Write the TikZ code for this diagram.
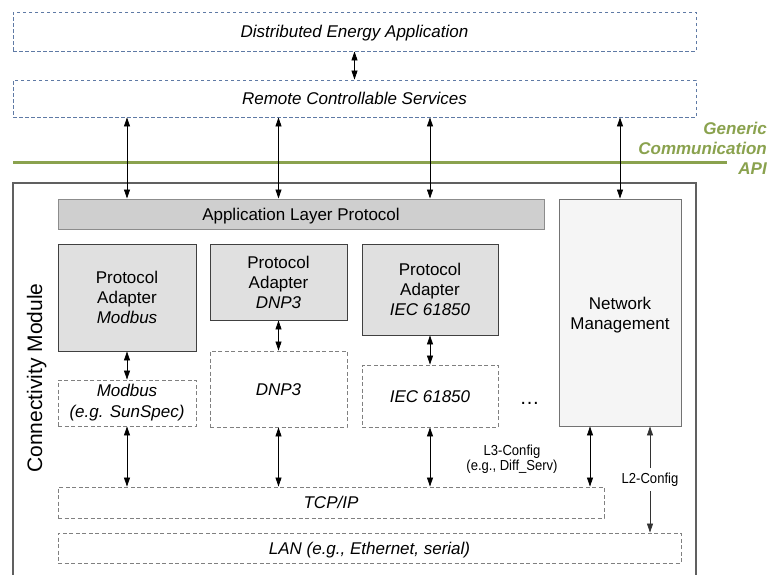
\documentclass[tikz,border=0pt]{standalone}
\usepackage{fontspec}
\setmainfont{Liberation Sans}
\newfontfamily\labelfont[FakeStretch=0.9]{Liberation Sans}
\usetikzlibrary{arrows.meta,calc}

\definecolor{svcblue}{RGB}{95,122,165}
\definecolor{apigreen}{RGB}{138,162,78}
\definecolor{framegray}{RGB}{96,96,96}
\definecolor{dashgray}{RGB}{128,128,128}

\tikzset{
  base/.style={inner sep=0pt, align=center, font=\fontsize{17}{20}\selectfont},
  oneline/.style={text height=12.2pt, text depth=0pt},
  svcbox/.style={base, oneline, draw=svcblue, line width=0.9pt, dash pattern=on 3.5pt off 2.5pt,
    font=\fontsize{17}{20}\selectfont\itshape},
  protobox/.style={base, draw=dashgray, line width=0.9pt, dash pattern=on 4pt off 2.5pt,
    font=\fontsize{17}{21}\selectfont\itshape},
  adapter/.style={base, draw=black!75, fill=black!12, line width=0.9pt},
  alpbox/.style={base, oneline, draw=black!45, fill=black!19, line width=1pt},
  nmbox/.style={base, draw=black!55, fill=black!4, line width=0.9pt},
  arr/.style={draw=black, line width=0.8pt, {Triangle[length=9pt,width=6pt]}-{Triangle[length=9pt,width=6pt]}},
  smalllab/.style={inner sep=1.5pt, align=center, font=\labelfont\fontsize{14.5}{14.5}\selectfont},
}

\begin{document}
\begin{tikzpicture}[x=1pt,y=-1pt]
\clip (0,0) rectangle (768,574);
\fill[white] (0,0) rectangle (768,574);

% upper service layers
\node[svcbox, minimum width=683pt, minimum height=39pt] (dea) at (354.5,31.5) {Distributed Energy Application};
\node[svcbox, minimum width=683pt, minimum height=37pt] (rcs) at (354.5,98.5) {Remote Controllable Services};

% API boundary
\coordinate (apiL) at (13,162);
\coordinate (apiR) at (727,162);
\draw[apigreen, line width=3pt] (apiL) -- (apiR);
\node[anchor=east, align=right, inner sep=0pt, text=apigreen,
      font=\fontsize{17}{20}\selectfont\bfseries\itshape] (api) at (767,148.5)
  {Generic\\Communication\\API};

% connectivity module frame
\node[draw=framegray, line width=2.2pt, minimum width=683pt, minimum height=417pt, inner sep=0pt] (cm) at (354.5,391.5) {};
\node[rotate=90, anchor=base, inner sep=0pt, font=\fontsize{21}{24}\selectfont] (cmlab) at (42,378) {Connectivity Module};

% inner blocks
\node[alpbox, minimum width=486pt, minimum height=30pt] (alp) at (301,214) {Application Layer Protocol};
\node[nmbox, minimum width=122pt, minimum height=227pt, text height=34pt, text depth=0pt] (nm) at (620,312.5) {Network\\Management};

\node[adapter, minimum width=138pt, minimum height=107pt] (pam) at (127,297.5) {Protocol\\Adapter\\\textit{Modbus}};
\node[adapter, minimum width=137pt, minimum height=76pt] (pad) at (278.5,282) {Protocol\\Adapter\\\textit{DNP3}};
\node[adapter, minimum width=136pt, minimum height=91pt] (pai) at (430,289.5) {Protocol\\Adapter\\\textit{IEC 61850}};

\node[protobox, minimum width=138pt, minimum height=46pt] (mb) at (127,403) {Modbus\\(e.g. SunSpec)};
\node[protobox, oneline, minimum width=137pt, minimum height=76pt] (dnp) at (278.5,389) {DNP3};
\node[protobox, oneline, minimum width=136pt, minimum height=62pt] (iec) at (430,396) {IEC 61850};
\node[base, anchor=base, font=\fontsize{20}{20}\selectfont] (more) at (529.5,404) {\dots};

\node[protobox, oneline, minimum width=546pt, minimum height=31pt] (tcp) at (331,502.5) {TCP/IP};
\node[protobox, oneline, minimum width=623pt, minimum height=30pt] (lan) at (369.5,548) {LAN (e.g., Ethernet, serial)};

% connectors
\draw[arr] (dea.south) -- (rcs.north);
\draw[arr] (rcs.south -| pam) -- (alp.north -| pam);
\draw[arr] (rcs.south -| pad) -- (alp.north -| pad);
\draw[arr] (rcs.south -| pai) -- (alp.north -| pai);
\draw[arr] (rcs.south -| nm) -- (nm.north);

\draw[arr] (pam.south) -- (mb.north);
\draw[arr] (pad.south) -- (dnp.north);
\draw[arr] (pai.south) -- (iec.north);

\draw[arr] (mb.south) -- (tcp.north -| mb);
\draw[arr] (dnp.south) -- (tcp.north -| dnp);
\draw[arr] (iec.south) -- (tcp.north -| iec);

\coordinate (nmL3) at ([xshift=-30pt]nm.south);
\coordinate (nmL2) at ([xshift=30pt]nm.south);
\draw[arr] (nmL3) -- (nmL3 |- tcp.north);
\node[smalllab] (l3) at (512,459) {L3-Config\\(e.g., Diff\_Serv)};
\draw[arr, draw=black!80] (nmL2) -- node[smalllab, fill=white, inner ysep=5pt] (l2) {L2-Config} (nmL2 |- lan.north);
\end{tikzpicture}
\end{document}
